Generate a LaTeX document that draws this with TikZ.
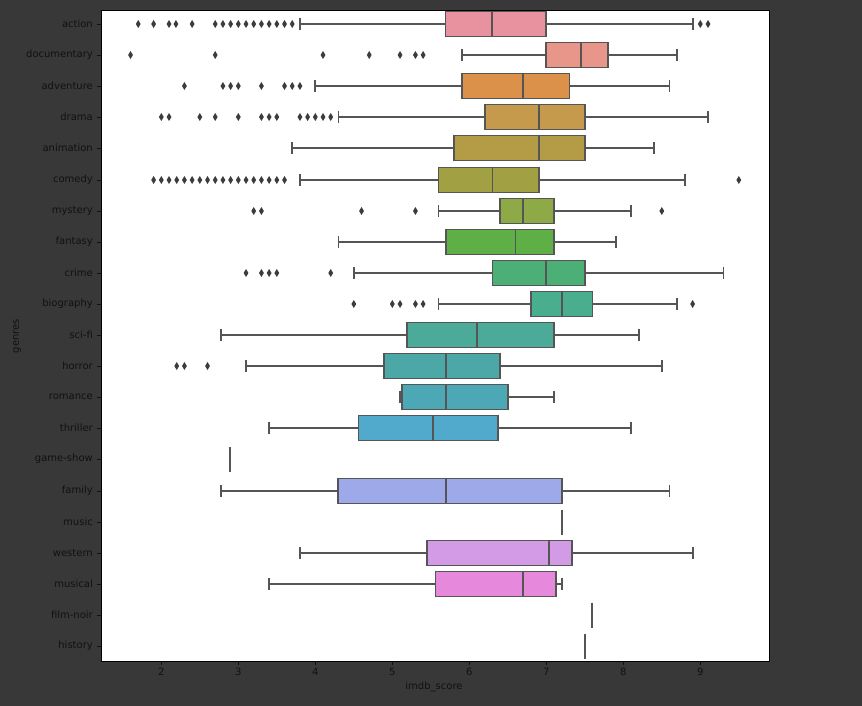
\documentclass[tikz,border=0pt]{standalone}
\usepackage{fontspec}
\setmainfont{DejaVu Sans}
\definecolor{bgdark}{HTML}{383838}
\definecolor{lnc}{HTML}{555555}
\definecolor{flc}{HTML}{3C3C3C}
\definecolor{txc}{HTML}{111111}
\definecolor{cAction}{HTML}{E8919F}
\definecolor{cDoc}{HTML}{E8968A}
\definecolor{cAdv}{HTML}{DB914A}
\definecolor{cDrama}{HTML}{C59A4C}
\definecolor{cAnim}{HTML}{B49C46}
\definecolor{cComedy}{HTML}{A1A042}
\definecolor{cMystery}{HTML}{8DAA46}
\definecolor{cFantasy}{HTML}{5EAF46}
\definecolor{cCrime}{HTML}{4BAF76}
\definecolor{cBio}{HTML}{49AE8D}
\definecolor{cScifi}{HTML}{4BAA98}
\definecolor{cHorror}{HTML}{4BA8A6}
\definecolor{cRomance}{HTML}{4BA8B4}
\definecolor{cThriller}{HTML}{51AACB}
\definecolor{cFamily}{HTML}{9DA9E8}
\definecolor{cWestern}{HTML}{D39AE6}
\definecolor{cMusical}{HTML}{E689DD}
\newcommand\bxrow[7]{%
  \pgfmathsetmacro\yy{round(24+31.1*#1)}
  \draw[wl] ({7.3+77*#3},\yy) -- ({7.3+77*#4},\yy);
  \draw[wl] ({7.3+77*#6},\yy) -- ({7.3+77*#7},\yy);
  \draw[wl] ({7.3+77*#3},{\yy-6.2}) -- ({7.3+77*#3},{\yy+6.2});
  \draw[wl] ({7.3+77*#7},{\yy-6.2}) -- ({7.3+77*#7},{\yy+6.2});
  \filldraw[wl,fill=#2] ({7.3+77*#4},{\yy-12.5}) rectangle ({7.3+77*#6},{\yy+12.5});
  \draw[wl] ({7.3+77*#5},{\yy-12.5}) -- ({7.3+77*#5},{\yy+12.5});
}
\newcommand\oneline[2]{%
  \pgfmathsetmacro\yy{round(24+31.1*#1)}
  \draw[wl] ({7.3+77*#2},{\yy-12.5}) -- ({7.3+77*#2},{\yy+12.5});
}
\newcommand\flrs[2]{%
  \pgfmathsetmacro\yf{round(24+31.1*#1)}
  \foreach \v in {#2}{\fill[flc] ({7.3+77*\v},{\yf-4}) -- ++(2.4,4) -- ++(-2.4,4) -- ++(-2.4,-4) -- cycle;}
}
\begin{document}
\begin{tikzpicture}[x=1pt,y=-1pt,
  wl/.style={draw=lnc,line width=1.8pt},
  lbl/.style={text=txc,font=\fontsize{10}{12}\selectfont,inner sep=0pt},
  tk/.style={draw=txc,line width=0.8pt}]
\fill[bgdark] (0,0) rectangle (862,706);
\useasboundingbox (0,0) rectangle (862,706);
\fill[white] (101,10) rectangle (769,661);
% y labels and ticks
\foreach \g [count=\i from 0] in {action,documentary,adventure,drama,animation,comedy,mystery,fantasy,crime,biography,sci-fi,horror,romance,thriller,game-show,family,music,western,musical,film-noir,history}{
  \pgfmathsetmacro\yl{round(24+31.1*\i)}
  \draw[tk] (97,\yl) -- (101,\yl);
  \node[lbl,anchor=east] (yl\i) at (93,\yl) {\g};
}
% x ticks
\foreach \t in {2,...,9}{
  \draw[tk] ({7.3+77*\t},661) -- ({7.3+77*\t},665);
  \node[lbl,anchor=north] (xt\t) at ({7.3+77*\t},668) {\t};
}
\node[lbl] (xlab) at (434,687) {imdb\_score};
\node[lbl,rotate=90] (ylab) at (17,336) {genres};
% boxes
\bxrow{0}{cAction}{3.8}{5.69}{6.29}{7.0}{8.9}
\flrs{0}{1.7,1.9,2.1,2.19,2.4,2.7,2.8,2.9,3.0,3.1,3.2,3.3,3.4,3.5,3.6,3.7,9.0,9.1}
\bxrow{1}{cDoc}{5.9}{7.0}{7.45}{7.8}{8.7}
\flrs{1}{1.6,2.7,4.1,4.7,5.1,5.3,5.4}
\bxrow{2}{cAdv}{4.0}{5.9}{6.7}{7.3}{8.6}
\flrs{2}{2.3,2.8,2.9,3.0,3.3,3.6,3.7,3.8}
\bxrow{3}{cDrama}{4.3}{6.2}{6.9}{7.5}{9.1}
\flrs{3}{2.0,2.1,2.5,2.7,3.0,3.3,3.4,3.5,3.8,3.9,4.0,4.1,4.2}
\bxrow{4}{cAnim}{3.7}{5.8}{6.9}{7.5}{8.4}
\bxrow{5}{cComedy}{3.8}{5.6}{6.3}{6.9}{8.8}
\flrs{5}{1.9,2.0,2.1,2.2,2.3,2.4,2.5,2.6,2.7,2.8,2.9,3.0,3.1,3.2,3.3,3.4,3.5,3.6,9.5}
\bxrow{6}{cMystery}{5.6}{6.4}{6.7}{7.1}{8.1}
\flrs{6}{3.2,3.3,4.6,5.3,8.5}
\bxrow{7}{cFantasy}{4.3}{5.7}{6.6}{7.1}{7.9}
\bxrow{8}{cCrime}{4.5}{6.3}{7.0}{7.5}{9.3}
\flrs{8}{3.1,3.3,3.4,3.5,4.2}
\bxrow{9}{cBio}{5.6}{6.8}{7.2}{7.6}{8.7}
\flrs{9}{4.5,5.0,5.1,5.3,5.4,8.9}
\bxrow{10}{cScifi}{2.78}{5.19}{6.1}{7.1}{8.2}
\bxrow{11}{cHorror}{3.1}{4.89}{5.7}{6.4}{8.5}
\flrs{11}{2.2,2.3,2.6}
\bxrow{12}{cRomance}{5.1}{5.13}{5.7}{6.5}{7.1}
\bxrow{13}{cThriller}{3.4}{4.56}{5.53}{6.37}{8.1}
\oneline{14}{2.89}
\bxrow{15}{cFamily}{2.78}{4.29}{5.7}{7.2}{8.6}
\oneline{16}{7.2}
\bxrow{17}{cWestern}{3.8}{5.45}{7.04}{7.33}{8.9}
\bxrow{18}{cMusical}{3.4}{5.56}{6.7}{7.13}{7.2}
\oneline{19}{7.59}
\oneline{20}{7.5}
\draw[black,line width=0.8pt] (101,10) rectangle (769,661);
\end{tikzpicture}
\end{document}
